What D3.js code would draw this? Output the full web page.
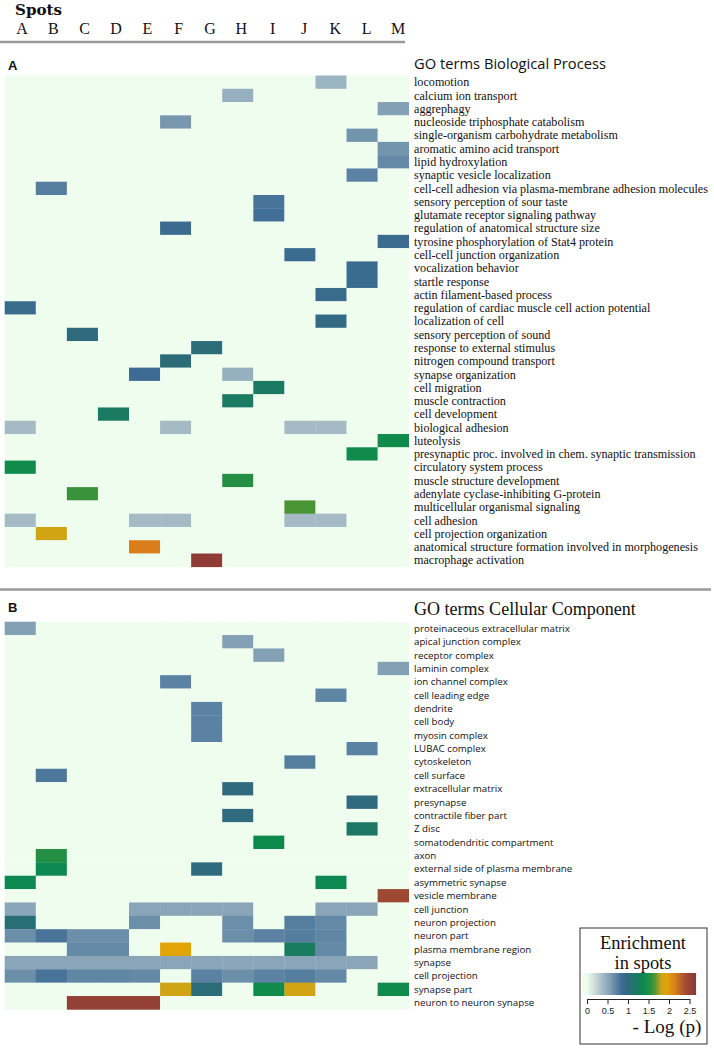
<!DOCTYPE html>
<html><head><meta charset="utf-8">
<script src="https://cdn.jsdelivr.net/npm/d3@7"></script>
<style>body{margin:0;background:#fff}svg{display:block}</style>
</head><body>
<svg id="c" width="714" height="1049"></svg>
<script>
const spots = ["A","B","C","D","E","F","G","H","I","J","K","L","M"];

const bpTerms = ["locomotion","calcium ion transport","aggrephagy","nucleoside triphosphate catabolism",
"single-organism carbohydrate metabolism","aromatic amino acid transport","lipid hydroxylation",
"synaptic vesicle localization","cell-cell adhesion via plasma-membrane adhesion molecules",
"sensory perception of sour taste","glutamate receptor signaling pathway","regulation of anatomical structure size",
"tyrosine phosphorylation of Stat4 protein","cell-cell junction organization","vocalization behavior",
"startle response","actin filament-based process","regulation of cardiac muscle cell action potential",
"localization of cell","sensory perception of sound","response to external stimulus","nitrogen compound transport",
"synapse organization","cell migration","muscle contraction","cell development","biological adhesion","luteolysis",
"presynaptic proc. involved in chem. synaptic transmission","circulatory system process","muscle structure development",
"adenylate cyclase-inhibiting G-protein","multicellular organismal signaling","cell adhesion",
"cell projection organization","anatomical structure formation involved in morphogenesis","macrophage activation"];

// columns: A B C D E F G H I J K L M
const bpValues = [
[0,0,0,0,0,0,0,0,0,0,.42,0,0],
[0,0,0,0,0,0,0,.45,0,0,0,0,0],
[0,0,0,0,0,0,0,0,0,0,0,0,.55],
[0,0,0,0,0,.6,0,0,0,0,0,0,0],
[0,0,0,0,0,0,0,0,0,0,0,.62,0],
[0,0,0,0,0,0,0,0,0,0,0,0,.62],
[0,0,0,0,0,0,0,0,0,0,0,0,.68],
[0,0,0,0,0,0,0,0,0,0,0,.72,0],
[0,.75,0,0,0,0,0,0,0,0,0,0,0],
[0,0,0,0,0,0,0,0,.8,0,0,0,0],
[0,0,0,0,0,0,0,0,.83,0,0,0,0],
[0,0,0,0,0,.88,0,0,0,0,0,0,0],
[0,0,0,0,0,0,0,0,0,0,0,0,.88],
[0,0,0,0,0,0,0,0,0,.88,0,0,0],
[0,0,0,0,0,0,0,0,0,0,0,.88,0],
[0,0,0,0,0,0,0,0,0,0,0,.88,0],
[0,0,0,0,0,0,0,0,0,0,.9,0,0],
[.9,0,0,0,0,0,0,0,0,0,0,0,0],
[0,0,0,0,0,0,0,0,0,0,.95,0,0],
[0,0,1.0,0,0,0,0,0,0,0,0,0,0],
[0,0,0,0,0,0,1.02,0,0,0,0,0,0],
[0,0,0,0,0,1.02,0,0,0,0,0,0,0],
[0,0,0,0,.85,0,0,.45,0,0,0,0,0],
[0,0,0,0,0,0,0,0,1.2,0,0,0,0],
[0,0,0,0,0,0,0,1.2,0,0,0,0,0],
[0,0,0,1.2,0,0,0,0,0,0,0,0,0],
[.38,0,0,0,0,.38,0,0,0,.38,.38,0,0],
[0,0,0,0,0,0,0,0,0,0,0,0,1.42],
[0,0,0,0,0,0,0,0,0,0,0,1.42,0],
[1.42,0,0,0,0,0,0,0,0,0,0,0,0],
[0,0,0,0,0,0,0,1.52,0,0,0,0,0],
[0,0,1.6,0,0,0,0,0,0,0,0,0,0],
[0,0,0,0,0,0,0,0,0,1.65,0,0,0],
[.38,0,0,0,.38,.38,0,0,0,.38,.38,0,0],
[0,1.85,0,0,0,0,0,0,0,0,0,0,0],
[0,0,0,0,2.15,0,0,0,0,0,0,0,0],
[0,0,0,0,0,0,2.6,0,0,0,0,0,0]
];

const ccTerms = ["proteinaceous extracellular matrix","apical junction complex","receptor complex","laminin complex",
"ion channel complex","cell leading edge","dendrite","cell body","myosin complex","LUBAC complex","cytoskeleton",
"cell surface","extracellular matrix","presynapse","contractile fiber part","Z disc","somatodendritic compartment",
"axon","external side of plasma membrane","asymmetric synapse","vesicle membrane","cell junction","neuron projection",
"neuron part","plasma membrane region","synapse","cell projection","synapse part","neuron to neuron synapse"];

const ccValues = [
[.55,0,0,0,0,0,0,0,0,0,0,0,0],
[0,0,0,0,0,0,0,.55,0,0,0,0,0],
[0,0,0,0,0,0,0,0,.55,0,0,0,0],
[0,0,0,0,0,0,0,0,0,0,0,0,.55],
[0,0,0,0,0,.72,0,0,0,0,0,0,0],
[0,0,0,0,0,0,0,0,0,0,.7,0,0],
[0,0,0,0,0,0,.72,0,0,0,0,0,0],
[0,0,0,0,0,0,.72,0,0,0,0,0,0],
[0,0,0,0,0,0,.72,0,0,0,0,0,0],
[0,0,0,0,0,0,0,0,0,0,0,.72,0],
[0,0,0,0,0,0,0,0,0,.75,0,0,0],
[0,.78,0,0,0,0,0,0,0,0,0,0,0],
[0,0,0,0,0,0,0,.98,0,0,0,0,0],
[0,0,0,0,0,0,0,0,0,0,0,.98,0],
[0,0,0,0,0,0,0,.98,0,0,0,0,0],
[0,0,0,0,0,0,0,0,0,0,0,1.18,0],
[0,0,0,0,0,0,0,0,1.4,0,0,0,0],
[0,1.52,0,0,0,0,0,0,0,0,0,0,0],
[0,1.38,0,0,0,0,.98,0,0,0,0,0,0],
[1.38,0,0,0,0,0,0,0,0,0,1.38,0,0],
[0,0,0,0,0,0,0,0,0,0,0,0,2.45],
[.52,0,0,0,.52,.52,.52,.52,0,0,.52,.52,0],
[1.05,0,0,0,.65,0,0,.65,0,.75,.68,0,0],
[.65,.8,.65,.65,0,0,0,.65,.72,.75,.7,0,0],
[0,0,.68,.68,0,1.95,0,0,0,1.22,.68,0,0],
[.52,.52,.52,.52,.52,.52,.52,.52,.52,.52,.52,.52,0],
[.65,.8,.7,.7,.68,0,.72,.65,.72,.75,.68,0,0],
[0,0,0,0,0,1.85,1.02,0,1.42,1.85,0,0,1.42],
[0,0,2.55,2.55,2.55,0,0,0,0,0,0,0,0]
];

const legendTicks = [0, 0.5, 1, 1.5, 2, 2.5];
const colorStops = [0, 0.2, 0.4, 0.55, 0.7, 0.85, 1.0, 1.2, 1.4, 1.55, 1.65, 1.8, 1.95, 2.15, 2.4, 2.65];
const colorRange = ["#effdef","#cbdad8","#a0b8c4","#84a0b4","#5f86a4","#3e6b93","#2e6a7c","#1a7a62","#0c8a4e","#2a9040","#4a9535","#c8a41c","#e3a40a","#d97e1a","#a24c30","#8a3838"];

const SERIF = "'Liberation Serif', 'DejaVu Serif', serif";
const SERIF_W = "'DejaVu Serif', 'Liberation Serif', serif";
const SANS = "'Open Sans', 'Noto Sans', sans-serif";

const svg = d3.select("#c");
const color = d3.scaleLinear().domain(colorStops).range(colorRange).clamp(true);
const x = d3.scaleBand().domain(spots).range([4.7, 408.7]).padding(0);
const xLab = d3.scalePoint().domain(spots).range([22, 398]);

function fit(sel, target) {
  sel.style("font-size", "10px");
  const w = sel.node().getComputedTextLength();
  sel.style("font-size", (10 * target / w).toFixed(2) + "px");
  return 10 * target / w;
}

// header
const spotsT = svg.append("text").attr("x", 15).attr("y", 14.5).text("Spots")
  .style("font-family", SERIF_W).style("font-weight", "bold").attr("fill", "#111");
fit(spotsT, 47);
svg.append("g").selectAll("text").data(spots).join("text")
  .attr("x", d => xLab(d)).attr("y", 33.5).attr("text-anchor", "middle")
  .style("font-family", SERIF).style("font-size", "16px").attr("fill", "#111").text(d => d);
svg.append("line").attr("x1", 0).attr("x2", 405).attr("y1", 42).attr("y2", 42)
  .attr("stroke", "#9a9a9a").attr("stroke-width", 2.5);
svg.append("line").attr("x1", 0).attr("x2", 711).attr("y1", 589.5).attr("y2", 589.5)
  .attr("stroke", "#9a9a9a").attr("stroke-width", 2.5);

function panel(letter, letterY, title, titleFont, titleW, titleY, terms, values, top, bottom, labelFont, refIdx, refW) {
  svg.append("text").attr("x", 8).attr("y", letterY).text(letter)
    .style("font-family", "'Liberation Sans', Arial, sans-serif").style("font-weight", "bold")
    .style("font-size", "13px").attr("fill", "#111");
  const t = svg.append("text").attr("x", 414).attr("y", titleY).text(title)
    .style("font-family", titleFont).attr("fill", "#111");
  fit(t, titleW);
  const y = d3.scaleBand().domain(terms).range([top, bottom]).padding(0);
  const cells = [];
  terms.forEach((term, i) => spots.forEach((s, j) => cells.push({term, s, v: values[i][j]})));
  svg.append("g").selectAll("rect").data(cells).join("rect")
    .attr("x", d => x(d.s)).attr("y", d => y(d.term))
    .attr("width", x.bandwidth() + 0.3).attr("height", y.bandwidth() + 0.3)
    .attr("fill", d => color(d.v));
  const g = svg.append("g");
  const labs = g.selectAll("text").data(terms).join("text")
    .attr("x", 414).attr("y", d => y(d) + y.bandwidth() / 2).attr("dy", "0.35em")
    .style("font-family", labelFont).attr("fill", "#111").text(d => d);
  const ref = labs.filter((d, i) => i === refIdx);
  const fs = fit(ref, refW);
  labs.style("font-size", fs.toFixed(2) + "px");
}

panel("A", 70, "GO terms Biological Process", SANS, 192, 69, bpTerms, bpValues, 75.5, 566.8, SERIF, 8, 294);
panel("B", 611.5, "GO terms Cellular Component", SERIF, 222, 615, ccTerms, ccValues, 621.7, 1009.4, SANS, 0, 156);

// legend
const lg = svg.append("g");
lg.append("rect").attr("x", 580).attr("y", 928).attr("width", 127).attr("height", 116)
  .attr("fill", "#fff").attr("stroke", "#333").attr("stroke-width", 1);
const e1 = lg.append("text").attr("x", 643).attr("y", 948.5).attr("text-anchor", "middle")
  .style("font-family", SERIF).attr("fill", "#111").text("Enrichment");
const fsE = fit(e1, 86);
lg.append("text").attr("x", 643).attr("y", 968.5).attr("text-anchor", "middle")
  .style("font-family", SERIF).style("font-size", fsE.toFixed(2) + "px").attr("fill", "#111").text("in spots");
const lx = d3.scaleLinear().domain([0, 2.5]).range([587, 689.5]);
const grad = svg.append("defs").append("linearGradient").attr("id", "lgGrad")
  .attr("x1", "0%").attr("x2", "100%").attr("y1", "0%").attr("y2", "0%");
const gMin = -0.1, gMax = 2.66;
d3.range(0, 1.0001, 0.02).forEach(f => {
  grad.append("stop").attr("offset", (f * 100) + "%").attr("stop-color", color(gMin + f * (gMax - gMin)));
});
lg.append("rect").attr("x", lx(gMin)).attr("y", 973).attr("width", lx(gMax) - lx(gMin)).attr("height", 22)
  .attr("fill", "url(#lgGrad)");
const ax = lg.append("g").attr("transform", "translate(0,999)")
  .call(d3.axisBottom(lx).tickValues(legendTicks).tickSize(5).tickSizeOuter(0).tickFormat(d => String(d)));
ax.select(".domain").attr("stroke", "#222");
ax.selectAll(".tick line").attr("stroke", "#222");
ax.selectAll(".tick text").attr("y", 9).style("font-family", "'Liberation Sans', Arial, sans-serif")
  .style("font-size", "9px").attr("fill", "#222");
const lp = lg.append("text").attr("x", 667).attr("y", 1033).attr("text-anchor", "middle")
  .style("font-family", SERIF).attr("fill", "#111").text("- Log (p)");
fit(lp, 69);
</script>
</body></html>
